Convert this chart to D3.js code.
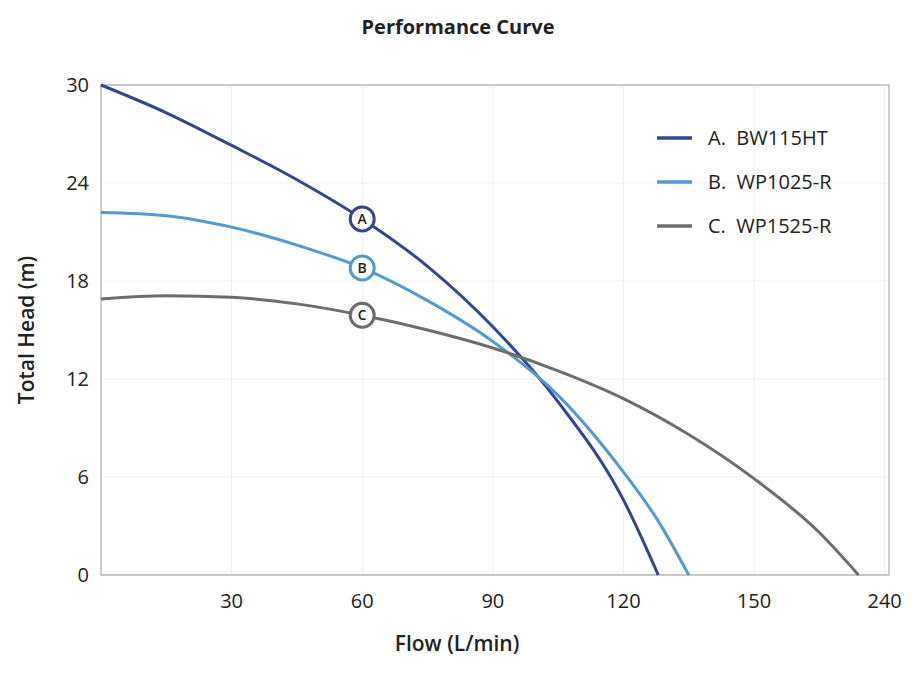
<!DOCTYPE html>
<html><head><meta charset="utf-8">
<script src="https://cdn.jsdelivr.net/npm/d3@7"></script>
<style>body{margin:0;background:#fff;font-family:"Open Sans",sans-serif}</style>
</head><body><svg id="c" width="921" height="673"></svg>
<script>
const xTicks=[30,60,90,120,150,180];
const xTickLabels=["30","60","90","120","150","240"];
const yTicks=[0,6,12,18,24,30];
const seriesNames=["A.  BW115HT","B.  WP1025-R","C.  WP1525-R"];
const seriesKeys=["A","B","C"];
const seriesColors=["#34468f","#5499cf","#6d6d6d"];
const curveA=[[0,30],[15,28.3],[30,26.3],[45,24.2],[60,21.8],[75,18.9],[90,15.2],[105,10.6],[120,4.6],[128,0]];
const curveB=[[0,22.2],[15,22.0],[30,21.3],[45,20.2],[60,18.8],[75,16.8],[90,14.3],[105,11.0],[120,6.3],[128,3.3],[135,0]];
const curveC=[[0,16.9],[15,17.1],[30,17.0],[45,16.6],[60,15.9],[75,15.0],[90,13.9],[105,12.5],[120,10.8],[135,8.6],[150,5.9],[165,2.6],[174,0]];
const markerX=60;
const curves=[curveA,curveB,curveC];

const svg=d3.select("#c");
const L=101,R=889,T=85,B=575;
const x=d3.scaleLinear().domain([0,181]).range([L,R]);
const y=d3.scaleLinear().domain([0,30]).range([B,T]);
const g=svg.append("g");
g.selectAll(".gx").data(xTicks).join("line").attr("x1",d=>x(d)).attr("x2",d=>x(d)).attr("y1",T).attr("y2",B).attr("stroke","#efefef");
g.selectAll(".gy").data(yTicks).join("line").attr("y1",d=>y(d)).attr("y2",d=>y(d)).attr("x1",L).attr("x2",R).attr("stroke","#efefef");
g.append("rect").attr("x",L).attr("y",T).attr("width",R-L).attr("height",B-T).attr("fill","none").attr("stroke","#9a9a9a");
svg.selectAll(".xl").data(xTicks).join("text").attr("x",d=>x(d)).attr("y",B+33).attr("text-anchor","middle").attr("font-size",20).attr("fill","#222").text((d,i)=>xTickLabels[i]);
svg.selectAll(".yl").data(yTicks).join("text").attr("x",L-12).attr("y",d=>y(d)+7).attr("text-anchor","end").attr("font-size",20).attr("fill","#222").text(d=>d);
svg.append("text").attr("x",458).attr("y",34).attr("text-anchor","middle").attr("font-size",20).attr("font-weight","bold").attr("fill","#222").text("Performance Curve");
svg.append("text").attr("x",457).attr("y",651).attr("text-anchor","middle").attr("font-size",21).attr("font-weight",600).attr("fill","#222").text("Flow (L/min)");
svg.append("text").attr("transform","translate(34,330) rotate(-90)").attr("text-anchor","middle").attr("font-size",21).attr("font-weight",600).attr("fill","#222").text("Total Head (m)");
const line=d3.line().x(d=>x(d[0])).y(d=>y(d[1])).curve(d3.curveMonotoneX);
curves.forEach((c,i)=>{
  svg.append("path").datum(c).attr("d",line).attr("fill","none").attr("stroke",seriesColors[i]).attr("stroke-width",3);
});
curves.forEach((c,i)=>{
  const v=c.find(p=>p[0]===markerX)[1];
  svg.append("circle").attr("cx",x(markerX)).attr("cy",y(v)).attr("r",12).attr("fill","#fff").attr("stroke",seriesColors[i]).attr("stroke-width",3);
  svg.append("text").attr("x",x(markerX)).attr("y",y(v)+5).attr("text-anchor","middle").attr("font-size",14).attr("font-weight",600).attr("fill","#222").text(seriesKeys[i]);
});
seriesNames.forEach((n,i)=>{
  const yy=138+i*44;
  svg.append("line").attr("x1",657).attr("x2",692).attr("y1",yy).attr("y2",yy).attr("stroke",seriesColors[i]).attr("stroke-width",3.5);
  svg.append("text").attr("x",708).attr("y",yy+7).attr("font-size",20).attr("fill","#222").attr("xml:space","preserve").text(n);
});
</script></body></html>
